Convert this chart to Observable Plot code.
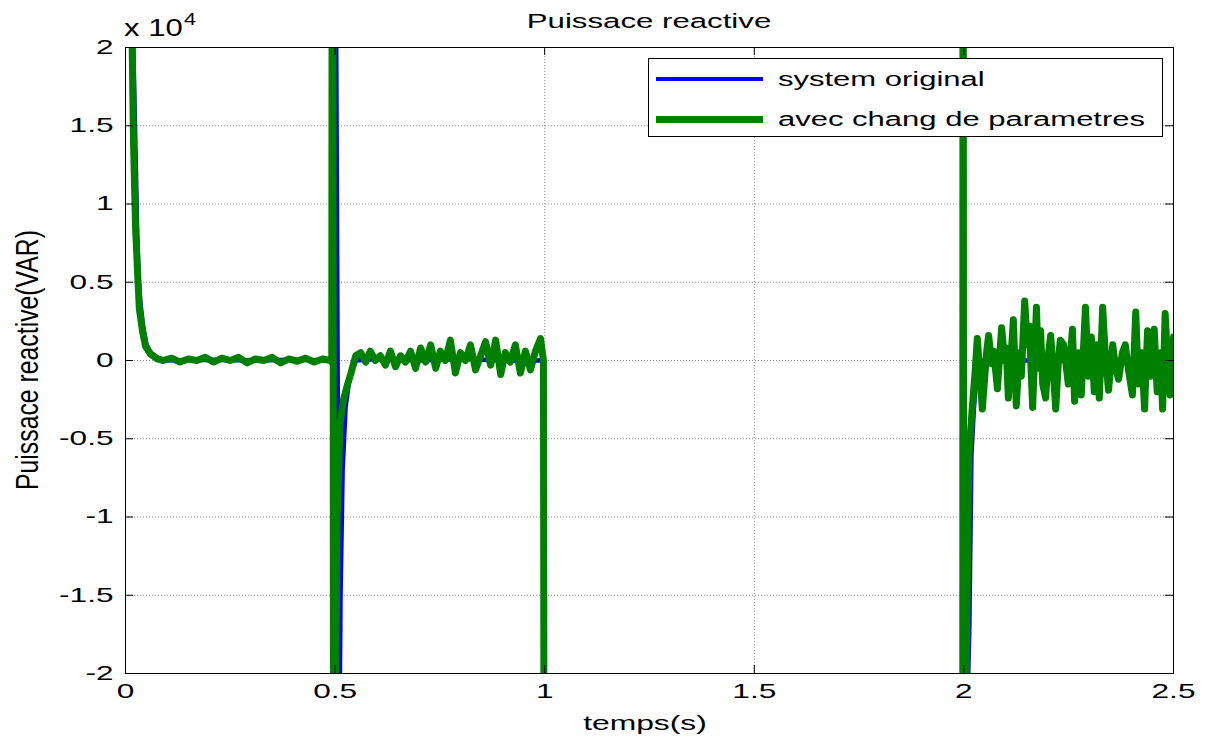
<!DOCTYPE html>
<html><head><meta charset="utf-8">
<script src="https://cdn.jsdelivr.net/npm/d3@7"></script>
<script src="https://cdn.jsdelivr.net/npm/@observablehq/plot@0.6"></script>
<style>
body{margin:0;background:#fff;}
#wrap{position:relative;width:1214px;height:742px;font-family:"Liberation Sans",Arial,sans-serif;color:#000;overflow:hidden;}
.lbl{position:absolute;font-size:20px;white-space:nowrap;line-height:1;}
#legend{position:absolute;left:648px;top:58px;width:513px;height:77px;border:1px solid #000;background:#fff;}
.ls{position:absolute;left:7px;width:107px;}
.lt{position:absolute;left:129px;font-size:20px;line-height:1;white-space:nowrap;transform:translateY(-50%) scaleX(1.55);transform-origin:left center;}
</style></head><body><div id="wrap"></div>
<script>
// Values in units of 10^4 VAR, time in seconds
const titleText = "Puissace reactive";
const xLabel = "temps(s)";
const yLabel = "Puissace reactive(VAR)";
const seriesNames = ["system original", "avec chang de parametres"];
const xTicks = [0, 0.5, 1, 1.5, 2, 2.5];
const yTicks = [-2, -1.5, -1, -0.5, 0, 0.5, 1, 1.5, 2];

const tOriginal = [0, 0.013, 0.017, 0.021, 0.025, 0.028, 0.031, 0.035, 0.042, 0.050, 0.060, 0.075, 0.09, 0.2, 0.3, 0.4, 0.49,
  0.492, 0.495, 0.503, 0.510, 0.513, 0.518, 0.525, 0.535, 0.55, 0.6, 0.7, 0.8, 0.9, 0.997,
  1.0, 1.997, 1.998, 2.001, 2.006, 2.013, 2.018, 2.024, 2.03, 2.04, 2.1, 2.2, 2.3, 2.4, 2.5];
const vOriginal = [3, 3, 2.2, 1.7, 1.2, 0.8, 0.55, 0.38, 0.22, 0.10, 0.05, 0.02, 0.0, 0.005, 0.0, 0.005, 0.0,
  0.0, 6, 1.85, -2.5, -1.5, -0.7, -0.3, -0.1, 0.0, 0.01, 0.0, 0.01, 0.0, 0.0,
  -6, -6, 6, -6, -2.5, -1.7, -0.6, -0.3, -0.1, 0.0, 0.0, 0.0, 0.0, 0.0, 0.0];

const tChanged = [0, 0.012, 0.015, 0.019, 0.024, 0.029, 0.033, 0.041, 0.048, 0.060, 0.076,
  0.09, 0.11, 0.13, 0.15, 0.17, 0.19, 0.21, 0.23, 0.25, 0.27, 0.29, 0.31, 0.33, 0.35, 0.37, 0.39, 0.41, 0.43, 0.45, 0.47, 0.49,
  0.492, 0.494, 0.497, 0.500, 0.505, 0.512, 0.520, 0.530, 0.538,
  0.549, 0.561, 0.573, 0.584, 0.596, 0.608, 0.620, 0.632, 0.644, 0.656, 0.668, 0.680, 0.692, 0.704, 0.716, 0.728, 0.740,
  0.751, 0.763, 0.775, 0.787, 0.799, 0.811, 0.823, 0.835, 0.847, 0.859, 0.871, 0.883, 0.895, 0.906, 0.918, 0.930, 0.942,
  0.954, 0.966, 0.978, 0.990, 0.997,
  1.0, 1.997, 1.998, 2.000, 2.003, 2.012, 2.020, 2.026,
  2.032, 2.044, 2.054, 2.059, 2.066, 2.071, 2.080, 2.090, 2.097, 2.101, 2.106, 2.118, 2.125, 2.132, 2.137, 2.145,
  2.151, 2.156, 2.164, 2.173, 2.178, 2.183, 2.188, 2.195, 2.202, 2.207, 2.214, 2.219, 2.226, 2.230, 2.238,
  2.249, 2.259, 2.264, 2.273, 2.280, 2.290, 2.297, 2.304, 2.311, 2.318, 2.323, 2.331, 2.337, 2.345, 2.355,
  2.362, 2.369, 2.378, 2.385, 2.392, 2.402, 2.410, 2.416, 2.424, 2.431, 2.438, 2.445, 2.454, 2.461, 2.469,
  2.474, 2.480, 2.487, 2.492, 2.500];
const vChanged = [3, 3, 2.2, 1.4, 0.85, 0.55, 0.33, 0.18, 0.09, 0.04, 0.01,
  0.0, 0.015, -0.01, 0.01, 0.0, 0.02, -0.01, 0.015, 0.0, 0.02, -0.015, 0.01, 0.0, 0.02, -0.015, 0.01, -0.005, 0.015, -0.01, 0.01, 0.0,
  -0.01, 6, -6, -2.5, -1.0, -0.4, -0.25, -0.15, -0.08,
  0.03, 0.05, -0.01, 0.06, 0.0, 0.03, -0.03, 0.06, -0.04, 0.03, -0.01, 0.06, -0.05, 0.08, -0.01, 0.10, -0.05,
  0.06, 0.0, 0.13, -0.08, 0.05, 0.0, 0.10, -0.06, 0.03, 0.12, -0.03, 0.13, -0.09, 0.05, -0.01, 0.10, -0.08,
  0.06, -0.06, 0.06, 0.14, 0.0,
  -6, -6, 6, -6, -2.5, -0.6, -0.3, -0.1,
  0.14, -0.31, 0.05, 0.16, -0.02, 0.06, -0.18, 0.21, 0.0, 0.08, -0.24, 0.26, -0.29, 0.05, -0.10, 0.38,
  0.10, 0.22, -0.30, 0.34, -0.05, 0.19, -0.15, -0.24, 0.05, 0.16, -0.10, -0.31, 0.02, 0.13, 0.10,
  -0.15, 0.20, -0.26, 0.05, -0.22, 0.34, -0.10, 0.15, -0.20, 0.10, -0.24, 0.34, 0.05, -0.19, 0.10,
  -0.05, -0.12, 0.05, 0.10, -0.05, -0.22, 0.31, -0.15, 0.05, -0.31, 0.19, -0.10, 0.20, -0.20, 0.05,
  -0.31, 0.30, -0.05, -0.22, 0.15];

const original = tOriginal.map((t, i) => ({t, v: vOriginal[i]}));
const changed = tChanged.map((t, i) => ({t, v: vChanged[i]}));

const xTickLen = 8 / 419.2, yTickLen = 8 / 156.5;

const chart = Plot.plot({
  width: 1214, height: 742,
  marginLeft: 125, marginRight: 41, marginTop: 47, marginBottom: 69,
  style: {fontFamily: "'Liberation Sans', Arial, sans-serif", fontSize: "20px", background: "white", color: "black"},
  x: {domain: [0, 2.5], ticks: xTicks, tickSize: 0, tickPadding: 10, tickFormat: d => String(d), label: null},
  y: {domain: [-2, 2], ticks: yTicks, tickSize: 0, tickPadding: 12, tickFormat: d => String(d), label: null},
  marks: [
    Plot.ruleX(xTicks.slice(1, -1), {stroke: "#8c8c8c", strokeDasharray: "1,2"}),
    Plot.ruleY(yTicks.slice(1, -1), {stroke: "#8c8c8c", strokeDasharray: "1,2"}),
    Plot.line(original, {x: "t", y: "v", stroke: "#0000ff", strokeWidth: 4.5, clip: true, strokeLinejoin: "round", strokeLinecap: "round"}),
    Plot.line(changed, {x: "t", y: "v", stroke: "#008000", strokeWidth: 7, clip: true, strokeLinejoin: "round", strokeLinecap: "round"}),
    Plot.ruleX(xTicks, {y1: -2, y2: -2 + yTickLen, stroke: "#000"}),
    Plot.ruleX(xTicks, {y1: 2, y2: 2 - yTickLen, stroke: "#000"}),
    Plot.ruleY(yTicks, {x1: 0, x2: xTickLen, stroke: "#000"}),
    Plot.ruleY(yTicks, {x1: 2.5, x2: 2.5 - xTickLen, stroke: "#000"}),
    Plot.frame({stroke: "#000"})
  ]
});

// widen tick label glyphs horizontally (the reference is horizontally stretched)
chart.querySelectorAll("text").forEach(t => {
  const tr = t.getAttribute("transform") || "";
  t.setAttribute("transform", tr + " scale(1.58,1)");
});

const wrap = document.getElementById("wrap");
chart.style.position = "absolute";
chart.style.left = "0px";
chart.style.top = "0px";
wrap.appendChild(chart);

function addLabel(text, left, top, transform) {
  const d = document.createElement("div");
  d.className = "lbl";
  d.textContent = text;
  d.style.left = left + "px";
  d.style.top = top + "px";
  d.style.transform = transform;
  wrap.appendChild(d);
  return d;
}
addLabel(titleText, 649, 21, "translate(-50%,-50%) scale(1.56,1)");
addLabel(xLabel, 645, 723, "translate(-50%,-50%) scale(1.59,1)");
addLabel(yLabel, 27, 360, "translate(-50%,-50%) rotate(-90deg) scale(1.24,1.58)");

const mult = document.createElement("div");
mult.className = "lbl";
mult.style.left = "124px";
mult.style.top = "17px";
mult.style.fontSize = "23px";
mult.style.transform = "scaleX(1.35)";
mult.style.transformOrigin = "left top";
mult.innerHTML = 'x 10<span style="position:relative;top:-11px;font-size:16px;margin-left:1px;">4</span>';
wrap.appendChild(mult);

const legend = document.createElement("div");
legend.id = "legend";
const lColors = ["#0000ff", "#008000"], lWidths = [4.5, 7], lY = [20, 60];
seriesNames.forEach((name, i) => {
  const s = document.createElement("div");
  s.className = "ls";
  s.style.top = (lY[i] - lWidths[i] / 2) + "px";
  s.style.height = lWidths[i] + "px";
  s.style.background = lColors[i];
  legend.appendChild(s);
  const tx = document.createElement("div");
  tx.className = "lt";
  tx.style.top = lY[i] + "px";
  tx.textContent = name;
  legend.appendChild(tx);
});
wrap.appendChild(legend);
</script></body></html>
